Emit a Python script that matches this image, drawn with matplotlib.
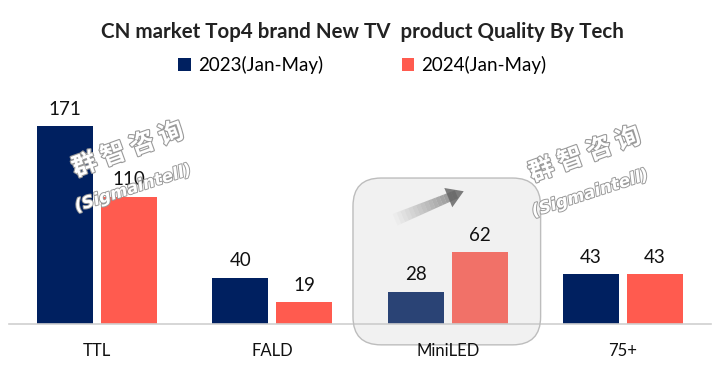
import matplotlib.pyplot as plt
import matplotlib.patheffects as pe
from matplotlib.patches import FancyBboxPatch, Patch
import numpy as np

# data
categories = ["TTL", "FALD", "MiniLED", "75+"]
series_names = ["2023(Jan-May)", "2024(Jan-May)"]
values_2023 = [171, 40, 28, 43]
values_2024 = [110, 19, 62, 43]
colors = ["#002060", "#ff5b4f"]
highlight = "MiniLED"

plt.rcParams['font.family'] = ['Lato', 'DejaVu Sans']

W, H = 725, 373
fig = plt.figure(figsize=(W / 100, H / 100), dpi=100)
# axes placed in pixels: left 9, right 711, baseline at 324 from top
ax = fig.add_axes([9.3 / W, 49 / H, 701.4 / W, 234 / H])
ax.set_xlim(-0.5, 3.5)
ax.set_ylim(0, 202)

x = np.arange(len(categories))
bw = 0.32
off = 0.183
b1 = ax.bar(x - off, values_2023, bw, color=colors[0], zorder=2)
b2 = ax.bar(x + off, values_2024, bw, color=colors[1], zorder=2)

for bars, vals in ((b1, values_2023), (b2, values_2024)):
    for rect, v in zip(bars, vals):
        ax.annotate(str(v), (rect.get_x() + rect.get_width() / 2, v),
                    xytext=(0, 6), textcoords="offset points",
                    ha="center", va="bottom", fontsize=13.5, color="#111111",
                    zorder=6)

for s in ["top", "right", "left"]:
    ax.spines[s].set_visible(False)
ax.spines["bottom"].set_color("#d0d0d0")
ax.spines["bottom"].set_linewidth(1.2)
ax.set_yticks([])
ax.set_xticks(x)
ax.set_xticklabels(categories, fontsize=12, color="#111111")
ax.tick_params(axis="x", length=0, pad=14)
ax.xaxis.set_zorder(7)

# highlight box around MiniLED
hi = categories.index(highlight)
px_x = 701.4 / 4.0
px_y = 234 / 202.0
asp = px_x / px_y
box = FancyBboxPatch((hi - 0.54, -18), 1.07, 144,
                     boxstyle="round,pad=0,rounding_size=0.16",
                     mutation_aspect=asp,
                     facecolor=(0.76, 0.76, 0.76, 0.22), edgecolor="#bdbdbd",
                     linewidth=1.0, zorder=4, clip_on=False)
ax.add_patch(box)

# fading arrow
tail = np.array([hi - 0.30, 90])
head = np.array([hi + 0.05, 112])
n = 16
for i in range(n):
    t0 = i / n
    t1 = (i + 1) / n
    p0 = tail + (head - tail) * t0
    p1 = tail + (head - tail) * t1
    ax.plot([p0[0], p1[0]], [p0[1], p1[1]], color="#6a6a6a",
            alpha=0.03 + 0.045 * i, lw=9 - 3 * t0, solid_capstyle="butt", zorder=5)
ax.annotate("", xy=head + (head - tail) * 0.16, xytext=head - (head - tail) * 0.05,
            arrowprops=dict(arrowstyle="-|>,head_width=0.75,head_length=1.2",
                            color="#666666", lw=0, alpha=0.85), zorder=5)

# watermarks
for cx, cy in ((128 / W, 1 - 150 / H), (585 / W, 1 - 155 / H)):
    t = fig.text(cx, cy, "群 智 咨 询", fontsize=18, fontweight="bold",
                 family=["Noto Sans CJK SC", "DejaVu Sans"], color="white",
                 rotation=20, ha="center", va="center", zorder=10)
    t.set_path_effects([pe.withStroke(linewidth=1.6, foreground="#9a9a9a")])
    t2 = fig.text(cx + 5 / W, cy - 38 / H, "(Sigmaintell)", fontsize=12,
                  fontweight="bold", style="italic", color="white",
                  family=["DejaVu Sans"], rotation=18,
                  ha="center", va="center", zorder=10)
    t2.set_path_effects([pe.withStroke(linewidth=1.4, foreground="#9a9a9a")])

fig.text(0.5, 1 - 32 / H, "CN market Top4 brand New TV  product Quality By Tech",
         ha="center", va="center", fontsize=14.8, fontweight="bold", color="#222222")

handles = [Patch(facecolor=c, label=n) for c, n in zip(colors, series_names)]
fig.legend(handles=handles, loc="center", bbox_to_anchor=(0.5, 1 - 65 / H),
           ncol=2, frameon=False, fontsize=13.5, handlelength=0.65,
           handleheight=0.65, handletextpad=0.4, columnspacing=4.2)

fig.savefig("out.png", dpi=100)
